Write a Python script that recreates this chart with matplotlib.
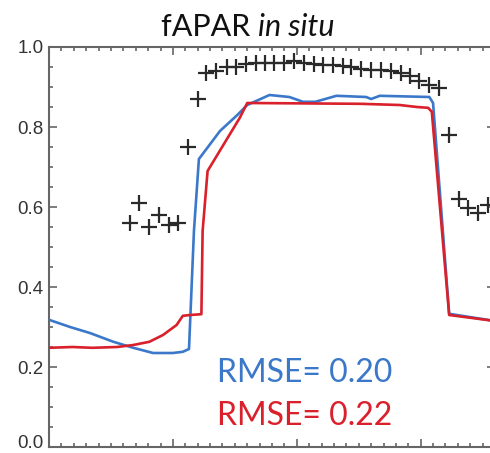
import numpy as np
import matplotlib
matplotlib.use('Agg')
import matplotlib.pyplot as plt
from matplotlib.ticker import MultipleLocator, FuncFormatter

# in situ crosses (day, fAPAR)
situ_day = [65, 73, 81, 89, 97, 104, 112, 120, 127, 135, 144, 151, 159, 167,
            174, 182, 190, 198, 206, 214, 221, 229, 237, 244, 252, 260, 268,
            276, 284, 291, 299, 307, 315, 323, 331, 338, 346, 354]
situ_val = [0.56, 0.61, 0.55, 0.58, 0.555, 0.56, 0.75, 0.87, 0.935, 0.94,
            0.95, 0.95, 0.957, 0.96, 0.96, 0.96, 0.96, 0.965, 0.96, 0.957,
            0.955, 0.955, 0.953, 0.95, 0.945, 0.943, 0.943, 0.94, 0.935,
            0.928, 0.915, 0.905, 0.898, 0.78, 0.62, 0.598, 0.585, 0.605]

# blue product
blue_day = [0, 17, 33, 52, 68, 84, 100, 108, 113, 117, 121, 138, 152, 160,
            178, 194, 205, 215, 232, 256, 260, 267, 307, 310, 323, 360]
blue_val = [0.318, 0.30, 0.285, 0.263, 0.248, 0.235, 0.235, 0.238, 0.245,
            0.54, 0.72, 0.79, 0.83, 0.855, 0.88, 0.875, 0.863, 0.863, 0.878,
            0.875, 0.87, 0.878, 0.875, 0.86, 0.333, 0.315]

# red product
red_day = [0, 19, 35, 55, 68, 81, 92, 103, 108, 114, 123, 124, 128, 154, 160,
           251, 283, 297, 306, 309, 323, 360]
red_val = [0.248, 0.25, 0.248, 0.25, 0.255, 0.263, 0.28, 0.305, 0.328, 0.33,
           0.332, 0.54, 0.69, 0.823, 0.86, 0.858, 0.855, 0.85, 0.848, 0.838,
           0.33, 0.315]

BLUE = '#3b78c9'
RED = '#d9202b'
AXC = '#666666'
LABC = '#333333'

fig = plt.figure(figsize=(4.9, 4.53), dpi=100)
ax = fig.add_axes([49 / 490, 6 / 453, 446 / 490, 400 / 453])

ax.plot(situ_day, situ_val, linestyle='none', marker='+', ms=11, mew=1.6,
        color='#2a2a2a', zorder=3)
ax.plot(blue_day, blue_val, color=BLUE, lw=1.9, zorder=4)
ax.plot(red_day, red_val, color=RED, lw=1.9, zorder=5)

ax.set_xlim(0, 360)
ax.set_ylim(0, 1.0)
ax.xaxis.set_major_locator(MultipleLocator(100))
ax.xaxis.set_minor_locator(MultipleLocator(10))
ax.yaxis.set_major_locator(MultipleLocator(0.2))
ax.yaxis.set_minor_locator(MultipleLocator(0.05))
# the 0.0 label is drawn separately below so it is not clipped at the bottom
ax.yaxis.set_major_formatter(FuncFormatter(lambda v, p: '' if abs(v) < 1e-9 else f'{v:.1f}'))
ax.tick_params(which='both', direction='in', top=True, right=True,
               color=AXC, width=1.2, labelbottom=False)
ax.tick_params(which='major', length=6)
ax.tick_params(which='minor', length=3)
ax.tick_params(axis='y', labelsize=13.5, labelcolor=LABC, pad=4)
for lab in ax.get_yticklabels():
    lab.set_family('Liberation Sans')
    lab.set_verticalalignment('center_baseline')
ax.annotate('0.0', xy=(0, 0), xycoords='data', xytext=(-4, -3.5),
            textcoords='offset points', ha='right', va='bottom',
            fontsize=13.5, family='Liberation Sans', color=LABC,
            annotation_clip=False)

for s in ax.spines.values():
    s.set_color(AXC)
    s.set_linewidth(1.5)

fig.text(258 / 490, 1 - 36 / 453, 'fAPAR ', ha='right', va='baseline',
         fontsize=22, family='Lato', color='#111111')
fig.text(258 / 490, 1 - 36 / 453, 'in situ', ha='left', va='baseline',
         fontsize=22, family='Lato', style='italic', color='#111111')

ax.text(217 / 490, 1 - 382 / 453, 'RMSE= 0.20', transform=fig.transFigure,
        fontsize=23, family='Lato', color=BLUE, va='baseline')
ax.text(217 / 490, 1 - 425 / 453, 'RMSE= 0.22', transform=fig.transFigure,
        fontsize=23, family='Lato', color=RED, va='baseline')

fig.savefig('out.png', dpi=100)
